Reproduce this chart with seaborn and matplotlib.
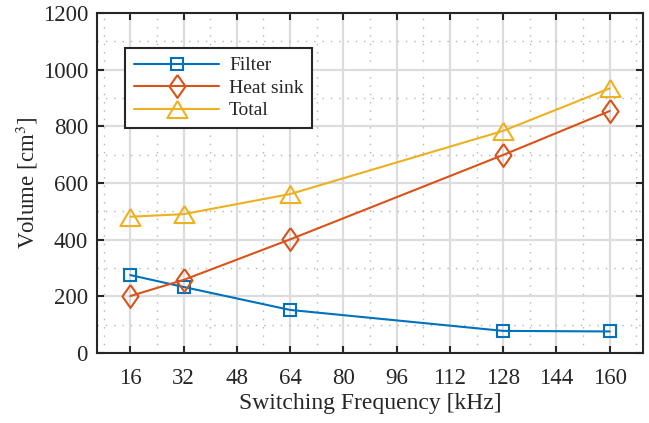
import matplotlib
matplotlib.use("Agg")
import matplotlib.pyplot as plt
from matplotlib.ticker import MultipleLocator
import seaborn as sns
import pandas as pd

# Switching frequency [kHz]
freq = [16, 32, 64, 128, 160]
# Component volumes [cm^3]
filter_vol = [275, 233, 152, 78, 76]
heatsink_vol = [201, 258, 401, 699, 854]
total_vol = [481, 490, 561, 784, 934]

series_names = ["Filter", "Heat sink", "Total"]
series_vals = [filter_vol, heatsink_vol, total_vol]
colors = ["#0072BD", "#D95319", "#EDB120"]

# open markers: square, tall diamond, flat triangle
diamond = [(0, 1), (0.7, 0), (0, -1), (-0.7, 0), (0, 1)]
triangle = [(0, 0.85), (1, -0.85), (-1, -0.85), (0, 0.85)]
markers = ["s", diamond, triangle]
msizes = [8.7, 16.5, 14.5]

sns.set_theme(style="ticks")
plt.rcParams["font.family"] = ["Liberation Serif", "DejaVu Serif"]
plt.rcParams["mathtext.fontset"] = "stix"

fig = plt.figure(figsize=(6.49, 4.23), dpi=100)
ax = fig.add_axes([0.1495, 0.1655, 0.8413, 0.8038])

for name, vals, c, m, ms in zip(series_names, series_vals, colors, markers, msizes):
    df = pd.DataFrame({"f": freq, "v": vals})
    sns.lineplot(data=df, x="f", y="v", ax=ax, color=c, linewidth=1.5,
                 marker=m, markersize=ms, markerfacecolor="none",
                 markeredgecolor=c, markeredgewidth=1.5, label=name)

ax.set_xlim(6, 170)
ax.set_ylim(0, 1200)
ax.xaxis.set_major_locator(MultipleLocator(16))
ax.xaxis.set_minor_locator(MultipleLocator(8))
ax.yaxis.set_major_locator(MultipleLocator(200))
ax.yaxis.set_minor_locator(MultipleLocator(100))

ax.grid(which="major", color="#dcdcdc", linewidth=1.6, linestyle="-")
ax.grid(which="minor", color="#b4b4b4", linewidth=1.0, linestyle=(0, (1, 5)))
ax.set_axisbelow(True)

for s in ax.spines.values():
    s.set_visible(True)
    s.set_color("#262626")
    s.set_linewidth(1.5)

ax.tick_params(which="major", direction="in", length=5, width=1.5,
               top=True, right=True, labelsize=16.5, colors="#262626")
ax.tick_params(axis="y", which="major", pad=6.5)
ax.tick_params(axis="x", which="major", pad=11)
ax.tick_params(which="minor", length=0)

ax.set_xlabel("Switching Frequency [kHz]", fontsize=17, color="#262626", labelpad=3)
ax.set_ylabel("Volume [cm$^3$]", fontsize=16.5, color="#262626", labelpad=2)

leg = ax.legend(loc="upper left", bbox_to_anchor=(0.0513, 0.897), borderaxespad=0,
                fontsize=14, frameon=True, fancybox=False, framealpha=1,
                edgecolor="#262626", handlelength=4.4, handletextpad=0.5,
                labelspacing=0.25, borderpad=0.45)
leg.get_frame().set_linewidth(1.5)

fig.savefig("out.png", dpi=100)
